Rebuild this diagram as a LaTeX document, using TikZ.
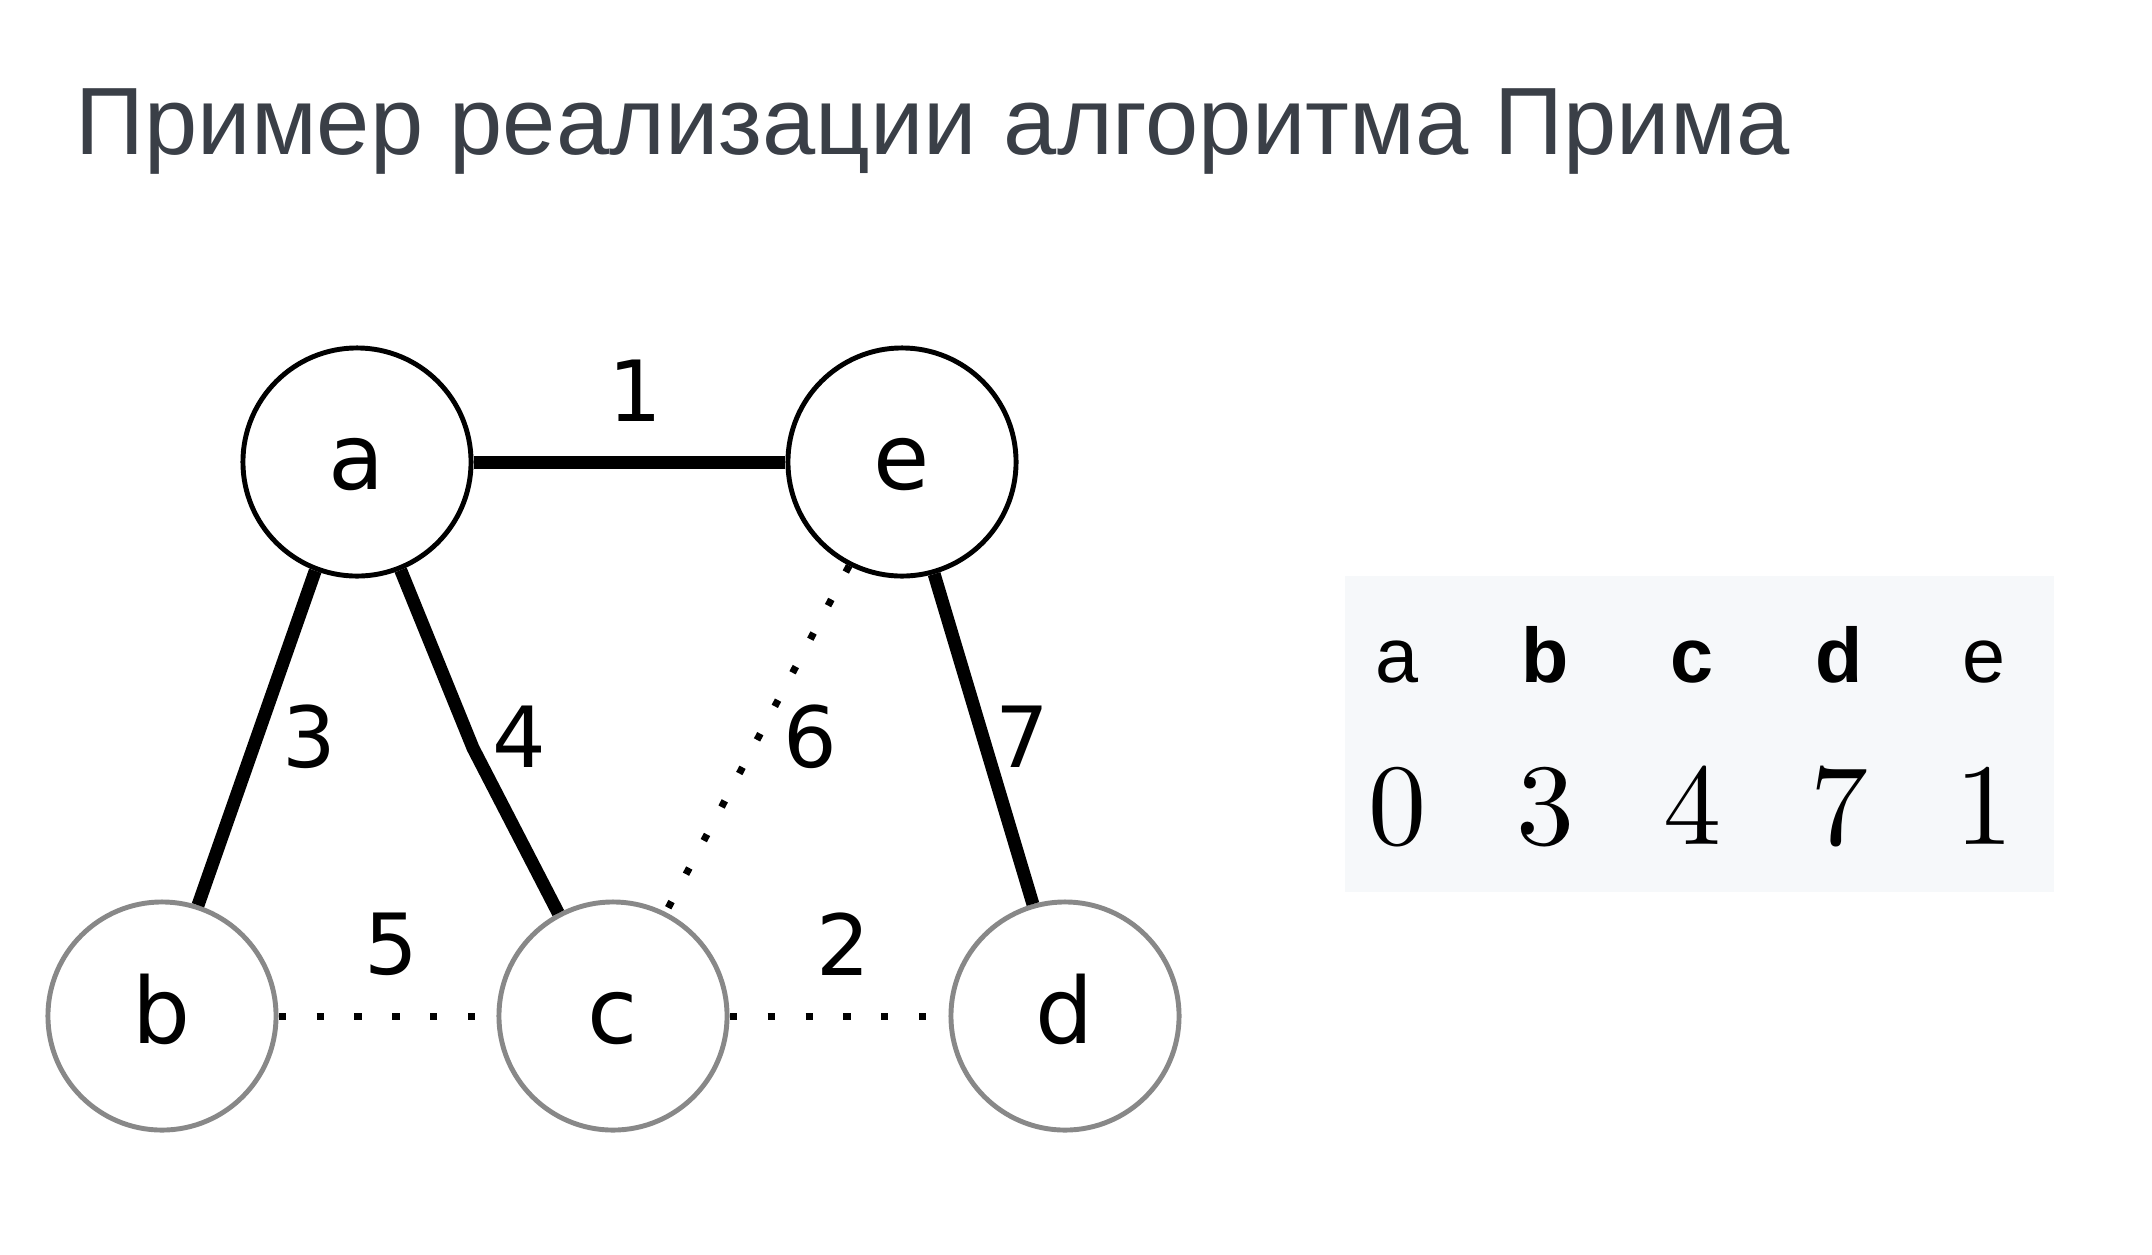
\documentclass[tikz,border=0pt]{standalone}
\usepackage{fontspec}
\newfontfamily\titlefont{Liberation Sans}
\newfontfamily\graphfont{DejaVu Sans}
\font\keydigits=cmr10 at 33pt
\usetikzlibrary{positioning}
\definecolor{titlegray}{RGB}{58,63,71}
\definecolor{tablebg}{RGB}{246,248,250}
\definecolor{visgray}{RGB}{136,136,136}

\begin{document}
\begin{tikzpicture}[
  x=0.01cm, y=-0.01cm,
  vnode/.style={circle, draw=black, line width=1.4pt, minimum size=2.28cm, inner sep=0pt,
    text height=0.54cm, text depth=0pt, font=\graphfont\fontsize{26}{30}\selectfont},
  freshnode/.style={vnode, draw=visgray},
  treeedge/.style={draw=black, line width=3.7pt},
  spareedge/.style={draw=black, line width=2pt, dash pattern=on 2pt off 8.8pt},
  wlabel/.style={font=\graphfont\fontsize{24}{28}\selectfont, inner sep=0pt},
  headcell/.style={anchor=base, inner sep=0pt, font=\titlefont\fontsize{22}{26}\selectfont},
  keycell/.style={anchor=base, inner sep=0pt, font=\keydigits}
]
  \useasboundingbox[fill=white] (0,0) rectangle (2152,1254);
  \node[anchor=base west, inner sep=0pt, text=titlegray, font=\titlefont\fontsize{27.2}{32}\selectfont]
    (title) at (75,154) {Пример реализации алгоритма Прима};

  % graph
  \node[vnode] (a) at (357,462) {a};
  \node[vnode] (e) at (902,462) {e};
  \node[freshnode] (b) at (162,1016) {b};
  \node[freshnode] (c) at (613,1016) {c};
  \node[freshnode] (d) at (1065,1016) {d};
  \coordinate (acbend) at (473,748);

  \draw[treeedge] (a.east) -- (e.west);
  \draw[treeedge] (a.-111) -- (b.72);
  \draw[treeedge] (a.-68) -- (acbend) -- (c.118);
  \draw[treeedge] (e.-74) -- (d.106);
  \draw[spareedge] (e.-117) -- (c.63);
  \draw[spareedge] (b.east) -- (c.west);
  \draw[spareedge] (c.east) -- (d.west);

  \node[wlabel] (w1) at (635,391) {1};
  \node[wlabel] (w3) at (309,737) {3};
  \node[wlabel] (w4) at (519,737) {4};
  \node[wlabel] (w6) at (810,737) {6};
  \node[wlabel] (w7) at (1022,737) {7};
  \node[wlabel] (w5) at (391,944) {5};
  \node[wlabel] (w2) at (843,944) {2};

  % key table
  \fill[tablebg] (1345,576) rectangle (2054,892);
  \node[headcell] (ha) at (1397,682) {a};
  \node[headcell] (hb) at (1545,682) {\bfseries b};
  \node[headcell] (hc) at (1692,682) {\bfseries c};
  \node[headcell] (hd) at (1839,682) {\bfseries d};
  \node[headcell] (he) at (1984,682) {e};
  \node[keycell] (ka) at (1397,844) {0};
  \node[keycell] (kb) at (1545,844) {3};
  \node[keycell] (kc) at (1692,844) {4};
  \node[keycell] (kd) at (1839,844) {7};
  \node[keycell] (ke) at (1984,844) {1};
\end{tikzpicture}
\end{document}
